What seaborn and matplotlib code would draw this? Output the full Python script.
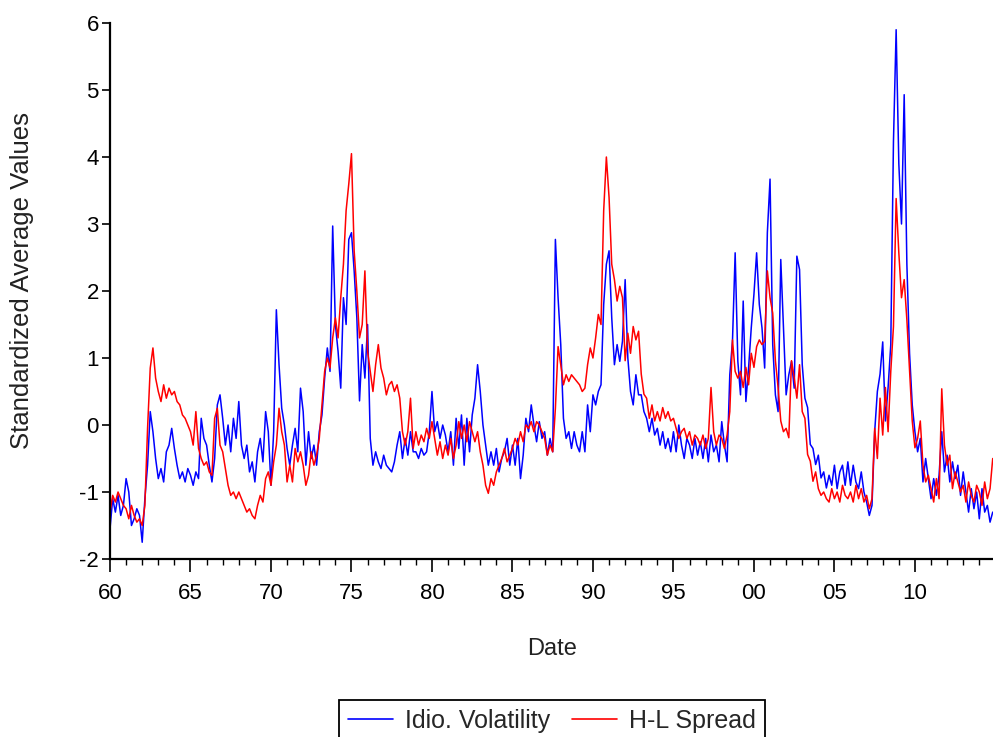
import numpy as np
import pandas as pd
import matplotlib
matplotlib.use("Agg")
import matplotlib.pyplot as plt
from matplotlib.ticker import MultipleLocator, FuncFormatter
import seaborn as sns

# ---- data (bi-monthly readings, 6 per year, Jan 1960 .. late 2014) ----
start_year = 1960
points_per_year = 6

idio_volatility = [
    -1.55, -1.1, -1.3, -1.05, -1.35, -1.2,     # 1960
    -0.8, -1.0, -1.5, -1.4, -1.25, -1.35,      # 1961
    -1.75, -1.1, -0.6, 0.2, -0.1, -0.5,        # 1962
    -0.8, -0.65, -0.85, -0.4, -0.3, -0.05,     # 1963
    -0.35, -0.6, -0.8, -0.7, -0.85, -0.65,     # 1964
    -0.75, -0.9, -0.7, -0.8, 0.1, -0.2,        # 1965
    -0.3, -0.6, -0.85, -0.5, 0.3, 0.45,        # 1966
    0.1, -0.3, 0.0, -0.4, 0.1, -0.2,           # 1967
    0.35, -0.3, -0.5, -0.3, -0.7, -0.55,       # 1968
    -0.85, -0.4, -0.2, -0.55, 0.2, -0.1,       # 1969
    -0.9, -0.1, 1.72, 0.9, 0.25, 0.0,          # 1970
    -0.35, -0.6, -0.3, -0.05, -0.4, 0.55,      # 1971
    0.2, -0.6, -0.1, -0.5, -0.3, -0.6,         # 1972
    -0.1, 0.15, 0.7, 1.15, 0.8, 2.97,          # 1973
    1.5, 1.1, 0.55, 1.9, 1.5, 2.77,            # 1974
    2.87, 2.3, 1.6, 0.36, 1.2, 0.7,            # 1975
    1.5, -0.2, -0.6, -0.4, -0.55, -0.65,       # 1976
    -0.45, -0.6, -0.65, -0.7, -0.55, -0.3,     # 1977
    -0.1, -0.5, -0.2, -0.45, -0.1, -0.4,       # 1978
    -0.4, -0.5, -0.35, -0.45, -0.4, -0.1,      # 1979
    0.5, -0.1, 0.05, -0.2, 0.0, -0.15,         # 1980
    -0.4, -0.1, -0.6, 0.1, -0.35, 0.15,        # 1981
    -0.6, 0.1, -0.4, 0.15, 0.4, 0.9,           # 1982
    0.5, 0.0, -0.3, -0.6, -0.4, -0.6,          # 1983
    -0.35, -0.7, -0.5, -0.4, -0.2, -0.6,       # 1984
    -0.3, -0.6, -0.2, -0.8, -0.45, 0.1,        # 1985
    -0.1, 0.3, 0.0, -0.25, 0.05, -0.2,         # 1986
    -0.1, -0.45, -0.2, -0.4, 2.77, 1.9,        # 1987
    1.2, 0.1, -0.2, -0.1, -0.35, -0.1,         # 1988
    -0.3, -0.4, -0.1, -0.4, 0.3, -0.1,         # 1989
    0.45, 0.3, 0.5, 0.6, 1.8, 2.4,             # 1990
    2.6, 1.6, 0.9, 1.2, 0.95, 1.25,            # 1991
    2.17, 1.0, 0.5, 0.3, 0.75, 0.45,           # 1992
    0.45, 0.2, 0.1, -0.1, 0.1, -0.15,          # 1993
    -0.05, -0.3, -0.1, -0.35, -0.2, -0.4,      # 1994
    -0.1, -0.4, 0.0, -0.3, -0.5, -0.2,         # 1995
    -0.3, -0.5, -0.2, -0.45, -0.25, -0.5,      # 1996
    -0.2, -0.55, -0.15, -0.4, -0.3, -0.55,     # 1997
    0.05, -0.3, -0.55, 0.75, 1.25, 2.57,       # 1998
    0.95, 0.45, 1.85, 0.35, 0.85, 1.45,        # 1999
    1.95, 2.57, 1.8, 1.45, 0.85, 2.87,         # 2000
    3.67, 1.2, 0.45, 0.2, 2.47, 1.45,          # 2001
    0.45, 0.75, 0.95, 0.55, 2.52, 2.32,        # 2002
    0.9, 0.4, 0.26, -0.29, -0.35, -0.59,       # 2003
    -0.45, -0.79, -0.7, -0.94, -0.75, -0.9,    # 2004
    -0.6, -0.95, -0.7, -0.6, -0.9, -0.55,      # 2005
    -0.9, -0.6, -0.85, -0.95, -0.7, -1.0,      # 2006
    -1.15, -1.35, -1.2, -0.1, 0.5, 0.76,       # 2007
    1.24, 0.06, 0.56, 1.2, 4.23, 5.9,          # 2008
    3.9, 3.0, 4.93, 2.4, 1.07, 0.3,            # 2009
    -0.1, -0.4, -0.2, -0.85, -0.5, -0.8,       # 2010
    -1.1, -0.8, -1.05, -0.75, -0.1, -0.7,      # 2011
    -0.45, -0.85, -0.55, -0.8, -0.6, -1.05,    # 2012
    -0.7, -1.0, -1.3, -0.95, -1.25, -1.0,      # 2013
    -1.4, -0.95, -1.3, -1.2, -1.45, -1.3,      # 2014
]

hl_spread = [
    -1.3, -1.05, -1.15, -1.0, -1.1, -1.2,      # 1960
    -1.25, -1.4, -1.2, -1.35, -1.45, -1.4,     # 1961
    -1.5, -1.2, -0.05, 0.85, 1.15, 0.7,        # 1962
    0.5, 0.35, 0.6, 0.4, 0.55, 0.45,           # 1963
    0.5, 0.35, 0.3, 0.15, 0.1, 0.0,            # 1964
    -0.1, -0.3, 0.2, -0.35, -0.5, -0.6,        # 1965
    -0.55, -0.7, -0.75, 0.1, 0.25, -0.3,       # 1966
    -0.4, -0.65, -0.9, -1.05, -1.0, -1.1,      # 1967
    -1.0, -1.1, -1.2, -1.3, -1.25, -1.35,      # 1968
    -1.4, -1.2, -1.05, -1.15, -0.8, -0.7,      # 1969
    -0.9, -0.55, -0.3, 0.25, -0.1, -0.3,       # 1970
    -0.85, -0.6, -0.85, -0.35, -0.55, -0.4,    # 1971
    -0.6, -0.9, -0.75, -0.4, -0.6, -0.45,      # 1972
    -0.2, 0.3, 0.8, 1.0, 0.85, 1.3,            # 1973
    1.6, 1.3, 1.9, 2.4, 3.2, 3.6,              # 1974
    4.05, 2.6, 2.0, 1.3, 1.5, 2.3,             # 1975
    1.1, 0.8, 0.5, 0.9, 1.2, 0.85,             # 1976
    0.7, 0.45, 0.6, 0.65, 0.5, 0.6,            # 1977
    0.4, -0.1, -0.3, -0.1, 0.4, -0.35,         # 1978
    -0.1, -0.3, -0.15, -0.25, -0.05, -0.2,     # 1979
    0.05, -0.2, -0.45, -0.25, -0.5, -0.3,      # 1980
    -0.45, -0.2, -0.5, -0.3, 0.05, -0.2,       # 1981
    0.0, -0.25, 0.05, -0.1, -0.25, -0.1,       # 1982
    -0.4, -0.6, -0.9, -1.02, -0.8, -0.9,       # 1983
    -0.7, -0.6, -0.5, -0.35, -0.55, -0.45,     # 1984
    -0.35, -0.2, -0.3, -0.1, -0.25, 0.0,       # 1985
    -0.05, 0.05, -0.1, 0.05, 0.0, -0.1,        # 1986
    -0.2, -0.45, -0.3, -0.4, 0.25, 1.17,       # 1987
    0.9, 0.6, 0.75, 0.65, 0.75, 0.7,           # 1988
    0.65, 0.6, 0.5, 0.55, 0.9, 1.15,           # 1989
    1.0, 1.3, 1.65, 1.5, 3.2, 4.0,             # 1990
    3.4, 2.4, 2.17, 1.85, 2.07, 1.9,           # 1991
    0.96, 1.37, 1.07, 1.47, 1.27, 1.4,         # 1992
    0.76, 0.46, 0.4, 0.1, 0.3, 0.06,           # 1993
    0.2, 0.06, 0.26, 0.1, 0.2, 0.06,           # 1994
    0.1, -0.05, -0.2, -0.1, -0.05, -0.2,       # 1995
    -0.1, -0.3, -0.15, -0.2, -0.3, -0.15,      # 1996
    -0.35, -0.2, 0.56, -0.1, -0.3, -0.15,      # 1997
    -0.2, -0.35, -0.15, 0.2, 1.27, 0.8,        # 1998
    0.7, 0.8, 0.56, 0.86, 0.6, 1.07,           # 1999
    0.86, 1.17, 1.27, 1.2, 1.25, 2.3,          # 2000
    1.9, 1.67, 0.96, 0.56, 0.06, -0.1,         # 2001
    -0.05, -0.19, 0.96, 0.71, 0.4, 0.9,        # 2002
    0.2, 0.1, -0.44, -0.54, -0.84, -0.7,       # 2003
    -0.95, -1.05, -1.0, -1.1, -1.15, -0.95,    # 2004
    -1.1, -1.0, -1.15, -0.9, -1.05, -1.1,      # 2005
    -1.0, -1.15, -0.9, -1.1, -0.95, -1.15,     # 2006
    -1.05, -1.25, -1.1, -0.05, -0.5, 0.4,      # 2007
    -0.15, 0.56, -0.1, 0.8, 1.47, 3.38,        # 2008
    2.57, 1.9, 2.17, 1.57, 0.8, 0.06,          # 2009
    -0.34, -0.2, 0.06, -0.6, -0.85, -0.75,     # 2010
    -0.95, -1.15, -0.8, -1.1, 0.54, -0.3,      # 2011
    -0.6, -0.45, -0.95, -0.7, -0.85, -1.0,     # 2012
    -0.9, -1.15, -0.85, -1.05, -1.15, -0.9,    # 2013
    -1.0, -1.2, -0.85, -1.1, -0.95, -0.5,      # 2014
]

series_names = ["Idio. Volatility", "H-L Spread"]
series_colors = ["#0000FF", "#FF0000"]
y_ticks = [-2, -1, 0, 1, 2, 3, 4, 5, 6]

dates = start_year + np.arange(len(idio_volatility)) / points_per_year
df = pd.DataFrame({"Date": np.concatenate([dates, dates]),
                   "Value": np.concatenate([idio_volatility, hl_spread]),
                   "Series": [series_names[0]] * len(dates) + [series_names[1]] * len(dates)})

# ---- styling ----
sns.set_theme(style="white")
plt.rcParams["font.family"] = ["Liberation Sans", "DejaVu Sans"]
plt.rcParams["axes.unicode_minus"] = False

fig = plt.figure(figsize=(9.93, 7.37), dpi=100)
ax = fig.add_axes([110 / 993, 1 - 559 / 737, 883 / 993, 536 / 737])

sns.lineplot(data=df, x="Date", y="Value", hue="Series", palette=series_colors,
             hue_order=series_names, linewidth=1.1, ax=ax, legend=False)

ax.set_xlim(1960, 2014.85)
ax.set_ylim(-2, 6)
ax.set_yticks(y_ticks)
ax.xaxis.set_major_locator(MultipleLocator(5))
ax.xaxis.set_minor_locator(MultipleLocator(1))
ax.xaxis.set_major_formatter(FuncFormatter(lambda v, p: f"{int(round(v)) % 100:02d}"))

for s in ["top", "right"]:
    ax.spines[s].set_visible(False)
for s in ["left", "bottom"]:
    ax.spines[s].set_color("black")
    ax.spines[s].set_linewidth(1.6)

ax.tick_params(axis="x", which="major", direction="out", length=9, width=1.2,
               pad=8, labelsize=16, colors="black", bottom=True)
ax.tick_params(axis="x", which="minor", direction="out", length=4.5, width=1.0,
               colors="black", bottom=True)
ax.tick_params(axis="y", which="major", direction="out", length=6, width=1.2,
               pad=2, labelsize=16, colors="black", left=True)

ax.set_xlabel("Date", fontsize=17, color="#222222")
ax.xaxis.set_label_coords(0.5006, -0.147)
ax.set_ylabel("Standardized Average Values", fontsize=18.5, color="#222222")
ax.yaxis.set_label_coords(-0.086, 0.52)

handles = ax.get_lines()[:2]
leg = fig.legend(handles, series_names, loc="upper center",
                 bbox_to_anchor=(552 / 993, 1 - 700 / 737), ncol=2,
                 frameon=True, fancybox=False, framealpha=1, edgecolor="black",
                 fontsize=18, handlelength=1.8, handletextpad=0.5,
                 columnspacing=0.85, borderpad=0.35, borderaxespad=0)
leg.get_frame().set_linewidth(1.3)
for lh in leg.get_lines():
    lh.set_linewidth(1.2)

fig.savefig("out.png", dpi=100, facecolor="white")
